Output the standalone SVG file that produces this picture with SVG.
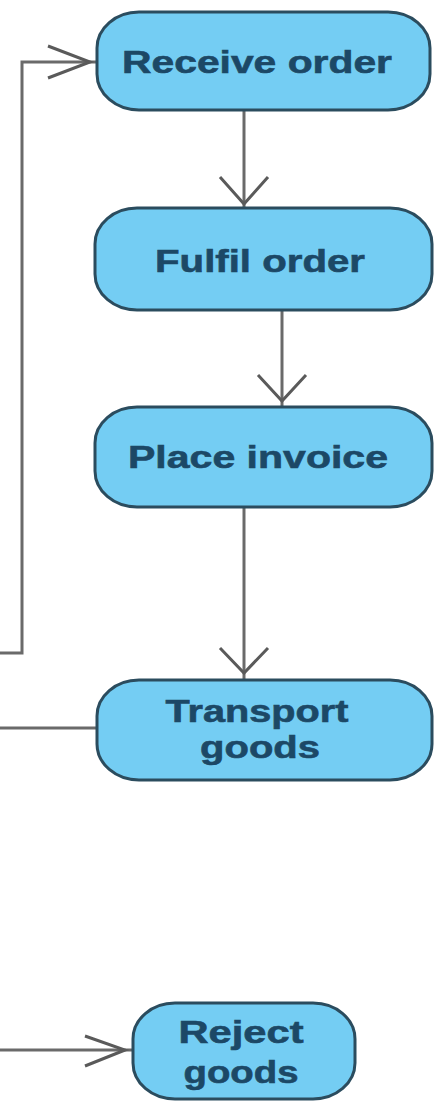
<svg xmlns="http://www.w3.org/2000/svg" width="443" height="1102" viewBox="0 0 443 1102">
<style>
.node rect{fill:#74cdf3;stroke:#2b4c5e;stroke-width:3}
.node text{font-family:"Liberation Sans",Arial,sans-serif;font-weight:bold;font-size:32px;fill:#1c4866;text-anchor:middle;stroke:#1c4866;stroke-width:0.6}
.conn path{fill:none;stroke:#6a6a6a;stroke-width:3}
.conn .head{stroke:#5a5a5a;stroke-width:3}
</style>
<rect width="443" height="1102" fill="#ffffff"/>
<g id="connectors" class="conn">
<path d="M0,653 H22 V62 H97"/>
<path class="head" d="M48,46 L90,62 L48,78"/>
<path d="M244,110 V207"/>
<path class="head" d="M220,177 L244,204 L268,177"/>
<path d="M282,310 V406"/>
<path class="head" d="M258,375 L282,401 L306,375"/>
<path d="M244,507 V679"/>
<path class="head" d="M220,648 L244,673 L268,648"/>
<path d="M0,728 H97"/>
<path d="M0,1050 H133"/>
<path class="head" d="M85,1036 L125,1050 L85,1066"/>
</g>
<g id="receive-order" class="node">
<rect x="97" y="12" width="333" height="98" rx="42" ry="36"/>
<text x="257" y="73" textLength="270" lengthAdjust="spacingAndGlyphs">Receive order</text>
</g>
<g id="fulfil-order" class="node">
<rect x="95" y="208" width="337" height="102" rx="42" ry="36"/>
<text x="260" y="272" textLength="210" lengthAdjust="spacingAndGlyphs">Fulfil order</text>
</g>
<g id="place-invoice" class="node">
<rect x="95" y="407" width="337" height="100" rx="42" ry="36"/>
<text x="258" y="468" textLength="260" lengthAdjust="spacingAndGlyphs">Place invoice</text>
</g>
<g id="transport-goods" class="node">
<rect x="97" y="680" width="335" height="100" rx="42" ry="36"/>
<text x="257" y="722" textLength="183" lengthAdjust="spacingAndGlyphs">Transport</text>
<text x="260" y="758" textLength="120" lengthAdjust="spacingAndGlyphs">goods</text>
</g>
<g id="reject-goods" class="node">
<rect x="133" y="1003" width="222" height="96" rx="42" ry="36"/>
<text x="241" y="1043" textLength="125" lengthAdjust="spacingAndGlyphs">Reject</text>
<text x="241" y="1083" textLength="115" lengthAdjust="spacingAndGlyphs">goods</text>
</g>
</svg>
